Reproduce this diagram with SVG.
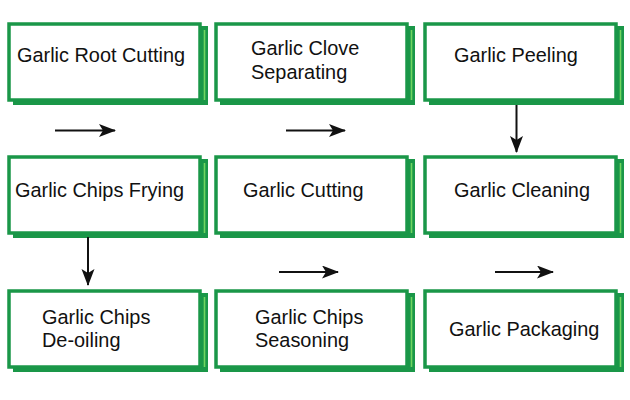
<svg xmlns="http://www.w3.org/2000/svg" xmlns:xlink="http://www.w3.org/1999/xlink" width="630" height="400" viewBox="0 0 630 400">
<style>
.shadow{fill:#1a9748;}
.front{fill:#ffffff;stroke:#1a9748;stroke-width:3.5;}
.hl{stroke:#72d562;stroke-width:1.6;}
.lbl{font-family:"Liberation Sans",Arial,sans-serif;font-size:19.9px;fill:#111111;}
.conn{stroke:#111111;stroke-width:2;fill:none;}
</style>
<defs>
<g id="box">
<rect class="shadow" x="13" y="26" width="195" height="79"/>
<rect class="front" x="9" y="24" width="191" height="76"/>
<line class="hl" x1="204.5" y1="30" x2="204.5" y2="100"/>
</g>
<marker id="ah" markerUnits="userSpaceOnUse" markerWidth="18" markerHeight="14" refX="16" refY="6.5" orient="auto">
<path d="M0,0 L17,6.5 L0,13 L4,6.5 z" fill="#111111"/>
</marker>
</defs>
<rect width="630" height="400" fill="#ffffff"/>

<g id="n1"><use xlink:href="#box"/><text class="lbl" x="17" y="62">Garlic Root Cutting</text></g>
<g id="n2"><use xlink:href="#box" transform="translate(207,0)"/><text class="lbl" x="251" y="55">Garlic Clove</text><text class="lbl" x="251" y="79">Separating</text></g>
<g id="n3"><use xlink:href="#box" transform="translate(416,0)"/><text class="lbl" x="454" y="62">Garlic Peeling</text></g>
<g id="n4"><use xlink:href="#box" transform="translate(0,133)"/><text class="lbl" x="15" y="197">Garlic Chips Frying</text></g>
<g id="n5"><use xlink:href="#box" transform="translate(207,133)"/><text class="lbl" x="243" y="197">Garlic Cutting</text></g>
<g id="n6"><use xlink:href="#box" transform="translate(416,133)"/><text class="lbl" x="454" y="197">Garlic Cleaning</text></g>
<g id="n7"><use xlink:href="#box" transform="translate(0,267)"/><text class="lbl" x="42" y="324">Garlic Chips</text><text class="lbl" x="42" y="347">De-oiling</text></g>
<g id="n8"><use xlink:href="#box" transform="translate(207,267)"/><text class="lbl" x="255" y="324">Garlic Chips</text><text class="lbl" x="255" y="347">Seasoning</text></g>
<g id="n9"><use xlink:href="#box" transform="translate(416,267)"/><text class="lbl" x="449" y="336">Garlic Packaging</text></g>

<g id="connectors">
<line class="conn" x1="55" y1="130.5" x2="115" y2="130.5" marker-end="url(#ah)"/>
<line class="conn" x1="286" y1="130.5" x2="345" y2="130.5" marker-end="url(#ah)"/>
<line class="conn" x1="516.5" y1="105" x2="516.5" y2="152" marker-end="url(#ah)"/>
<line class="conn" x1="88" y1="237" x2="88" y2="285" marker-end="url(#ah)"/>
<line class="conn" x1="279" y1="272" x2="338" y2="272" marker-end="url(#ah)"/>
<line class="conn" x1="495" y1="272" x2="553" y2="272" marker-end="url(#ah)"/>
</g>
</svg>
